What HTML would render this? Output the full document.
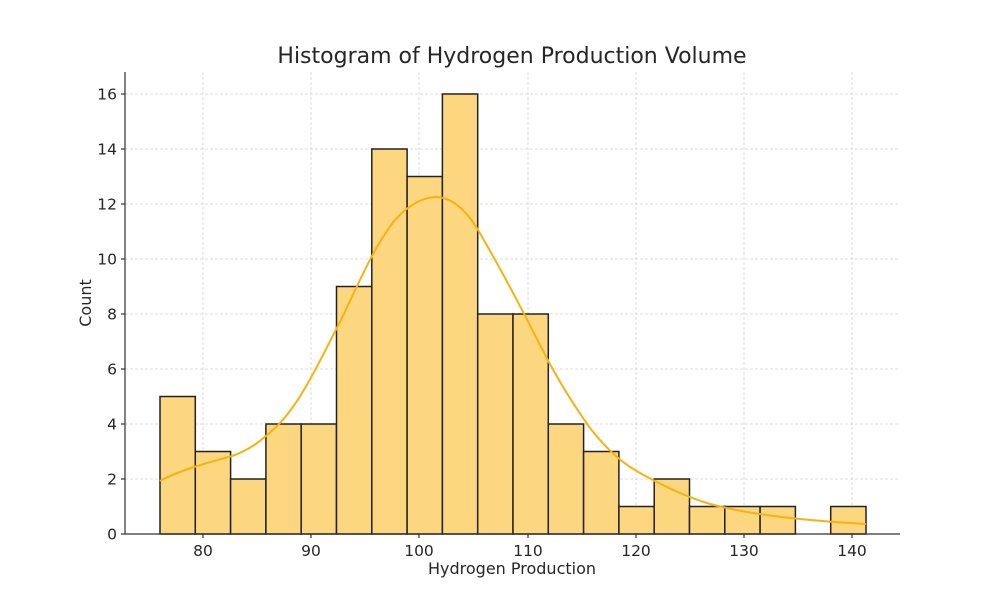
<!DOCTYPE html>
<html><head><meta charset="utf-8"><style>body{margin:0;background:#fff}svg{display:block}text{font-family:"DejaVu Sans","Liberation Sans",sans-serif;fill:#262626}</style></head>
<body>
<svg width="1000" height="600" viewBox="0 0 1000 600" xmlns="http://www.w3.org/2000/svg">
<g stroke="#dedede" stroke-width="1" stroke-dasharray="3,2">
<line x1="203" y1="72" x2="203" y2="534"/><line x1="311" y1="72" x2="311" y2="534"/><line x1="419" y1="72" x2="419" y2="534"/><line x1="528" y1="72" x2="528" y2="534"/><line x1="636" y1="72" x2="636" y2="534"/><line x1="744" y1="72" x2="744" y2="534"/><line x1="852" y1="72" x2="852" y2="534"/>
<line x1="125" y1="479" x2="900" y2="479"/><line x1="125" y1="424" x2="900" y2="424"/><line x1="125" y1="369" x2="900" y2="369"/><line x1="125" y1="314" x2="900" y2="314"/><line x1="125" y1="259" x2="900" y2="259"/><line x1="125" y1="204" x2="900" y2="204"/><line x1="125" y1="149" x2="900" y2="149"/><line x1="125" y1="94" x2="900" y2="94"/>
</g>
<g fill="#fdd680" stroke="#222" stroke-width="1.5">
<rect x="160" y="396.5" width="35.3" height="137.5"/>
<rect x="195.3" y="451.5" width="35.3" height="82.5"/>
<rect x="230.6" y="479" width="35.3" height="55"/>
<rect x="265.9" y="424" width="35.3" height="110"/>
<rect x="301.2" y="424" width="35.3" height="110"/>
<rect x="336.5" y="286.5" width="35.3" height="247.5"/>
<rect x="371.8" y="149" width="35.3" height="385"/>
<rect x="407.1" y="176.5" width="35.3" height="357.5"/>
<rect x="442.4" y="94" width="35.3" height="440"/>
<rect x="477.7" y="314" width="35.3" height="220"/>
<rect x="513" y="314" width="35.3" height="220"/>
<rect x="548.3" y="424" width="35.3" height="110"/>
<rect x="583.6" y="451.5" width="35.3" height="82.5"/>
<rect x="618.9" y="506.5" width="35.3" height="27.5"/>
<rect x="654.2" y="479" width="35.3" height="55"/>
<rect x="689.5" y="506.5" width="35.3" height="27.5"/>
<rect x="724.8" y="506.5" width="35.3" height="27.5"/>
<rect x="760.1" y="506.5" width="35.3" height="27.5"/>
<rect x="830.7" y="506.5" width="35.3" height="27.5"/>
</g>
<path d="M160,481 C180,470 210,462 232,456 C250,450 262,440 275,428 C300,405 320,360 342,318 C360,280 375,245 395,220 C410,203 425,197 437,197 C455,198 470,215 481,235 C500,268 520,305 540,345 C555,375 570,400 590,428 C605,447 620,462 640,473 C665,487 690,498 710,504 C740,512 770,516 800,519 C830,522 850,523 866,524" fill="none" stroke="#f5b30f" stroke-width="2"/>
<g stroke="#333" stroke-width="1.2">
<line x1="125" y1="72" x2="125" y2="534"/><line x1="125" y1="534" x2="900" y2="534"/>
<line x1="203" y1="534" x2="203" y2="538"/><line x1="311" y1="534" x2="311" y2="538"/><line x1="419" y1="534" x2="419" y2="538"/><line x1="528" y1="534" x2="528" y2="538"/><line x1="636" y1="534" x2="636" y2="538"/><line x1="744" y1="534" x2="744" y2="538"/><line x1="852" y1="534" x2="852" y2="538"/>
<line x1="121" y1="534" x2="125" y2="534"/><line x1="121" y1="479" x2="125" y2="479"/><line x1="121" y1="424" x2="125" y2="424"/><line x1="121" y1="369" x2="125" y2="369"/><line x1="121" y1="314" x2="125" y2="314"/><line x1="121" y1="259" x2="125" y2="259"/><line x1="121" y1="204" x2="125" y2="204"/><line x1="121" y1="149" x2="125" y2="149"/><line x1="121" y1="94" x2="125" y2="94"/>
</g>
<g font-size="15.5" text-anchor="middle">
<text x="203" y="556">80</text><text x="311" y="556">90</text><text x="419" y="556">100</text><text x="528" y="556">110</text><text x="636" y="556">120</text><text x="744" y="556">130</text><text x="852" y="556">140</text>
</g>
<g font-size="15.5" text-anchor="end">
<text x="117" y="539.5">0</text><text x="117" y="484.5">2</text><text x="117" y="429.5">4</text><text x="117" y="374.5">6</text><text x="117" y="319.5">8</text><text x="117" y="264.5">10</text><text x="117" y="209.5">12</text><text x="117" y="154.5">14</text><text x="117" y="99.5">16</text>
</g>
<text x="512" y="574" font-size="16" text-anchor="middle">Hydrogen Production</text>
<text transform="translate(91,303) rotate(-90)" font-size="16" text-anchor="middle">Count</text>
<text x="512" y="63" font-size="22" text-anchor="middle">Histogram of Hydrogen Production Volume</text>
</svg>
</body></html>
